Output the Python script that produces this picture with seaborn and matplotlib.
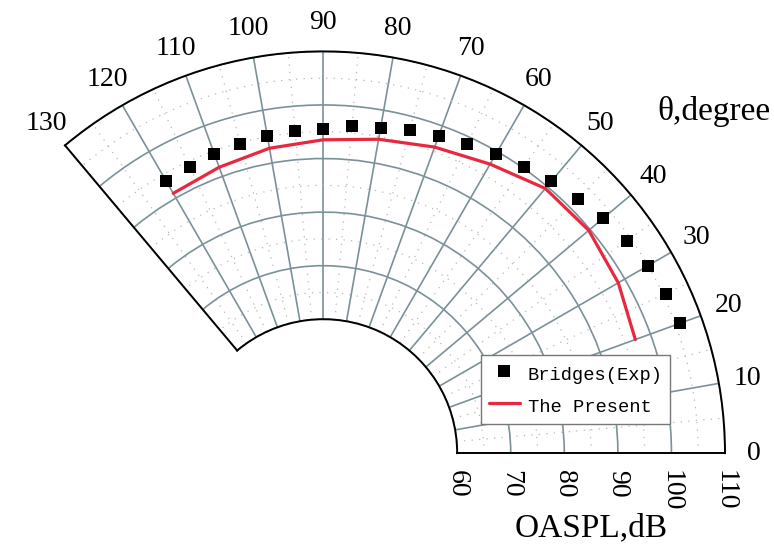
import numpy as np
import pandas as pd
import matplotlib
matplotlib.use("Agg")
import matplotlib.pyplot as plt
import seaborn as sns
from matplotlib.ticker import FixedLocator

# ---- data ----
exp_theta = [20, 25, 30, 35, 40, 45, 50, 55, 60, 65, 70, 75, 80, 85, 90, 95, 100, 105, 110, 115, 120]
exp_db = [105.8, 105.5, 104.9, 104.2, 103.2, 102.2, 101.2, 100.3, 99.5, 98.7, 98.1, 97.5,
          96.7, 96.3, 95.6, 95.4, 95.1, 94.7, 94.4, 94.0, 93.7]
cal_theta = [20, 30, 40, 50, 60, 70, 80, 90, 100, 110, 120]
cal_db = [97.0, 98.6, 99.7, 99.5, 97.3, 95.8, 94.5, 93.5, 92.8, 91.8, 91.0]
theta_ticks = list(range(0, 131, 10))
theta_minor = list(range(5, 130, 10))
r_ticks = [60, 70, 80, 90, 100, 110]
r_minor = [65, 75, 85, 95, 105]
exp_label = "Bridges(Exp)"
cal_label = "The Present"

sns.set_style("white")
plt.rcParams["font.family"] = ["Liberation Serif", "DejaVu Serif"]
plt.rcParams["text.color"] = "black"
plt.rcParams["xtick.color"] = "black"
plt.rcParams["ytick.color"] = "black"

W, H = 774, 546
fig = plt.figure(figsize=(7.74, 5.46), dpi=100)
# polar axes keeps a square box; wedge (660 x 402 px) is centred inside it
side = 660
cy = (48 + 450) / 2
ax = fig.add_axes([65 / W, (H - cy - side / 2) / H, side / W, side / H], projection="polar")
ax.set_thetamin(0)
ax.set_thetamax(130)
ax.set_ylim(60, 110)
ax.set_rorigin(35)

df_exp = pd.DataFrame({"theta": np.deg2rad(exp_theta), "db": exp_db})
df_cal = pd.DataFrame({"theta": np.deg2rad(cal_theta), "db": cal_db})

sns.lineplot(data=df_cal, x="theta", y="db", ax=ax, color="#e8283f", linewidth=2.3,
             label=cal_label, zorder=4)
sns.scatterplot(data=df_exp, x="theta", y="db", ax=ax, marker="s", s=78, color="black",
                edgecolor="black", linewidth=0, label=exp_label, zorder=5)
ax.set_xlabel("")
ax.set_ylabel("")

ax.set_xticks(np.deg2rad(theta_ticks))
ax.set_xticklabels([str(t) for t in theta_ticks])
ax.xaxis.set_minor_locator(FixedLocator(np.deg2rad(theta_minor)))
ax.set_yticks(r_ticks)
ax.set_yticklabels([str(r) for r in r_ticks])
ax.yaxis.set_minor_locator(FixedLocator(r_minor))

ax.tick_params(axis="x", which="major", direction="in", length=9, width=1.2, pad=14,
               labelsize=20, color="black", labelcolor="black")
ax.tick_params(axis="x", which="minor", direction="in", length=5, width=1.2, color="black")
ax.tick_params(axis="y", which="both", direction="in", length=5, width=1.2, color="black")
ax.tick_params(axis="y", which="major", labelsize=20, labelrotation="auto", pad=12,
               labelcolor="black")

ax.grid(True, which="major", color="#7b9199", linewidth=1.2, linestyle="-")
ax.grid(True, which="minor", color="#b8b8b8", linewidth=0.9, linestyle=(0, (1, 5)))

for s in ax.spines.values():
    s.set_color("black")
    s.set_linewidth(1.4)

handles, labels = ax.get_legend_handles_labels()
order = [labels.index(exp_label), labels.index(cal_label)]
leg = ax.legend([handles[i] for i in order], [labels[i] for i in order],
                loc="upper left", bbox_to_anchor=(481 / W, 1 - 355 / H),
                bbox_transform=fig.transFigure, frameon=True, fancybox=False,
                edgecolor="#777777", framealpha=1, borderaxespad=0,
                prop={"family": "Liberation Mono", "size": 13.5},
                handlelength=1.7, handletextpad=0.4, borderpad=0.4,
                handleheight=1.4, labelspacing=0.55)
leg.get_frame().set_linewidth(1.0)
leg.set_zorder(10)

fig.text(714 / W, 1 - 112 / H, "θ,degree", ha="center", va="center", fontsize=24)
fig.text(591 / W, 1 - 528 / H, "OASPL,dB", ha="center", va="center", fontsize=24)

fig.savefig("out.png", dpi=100)
